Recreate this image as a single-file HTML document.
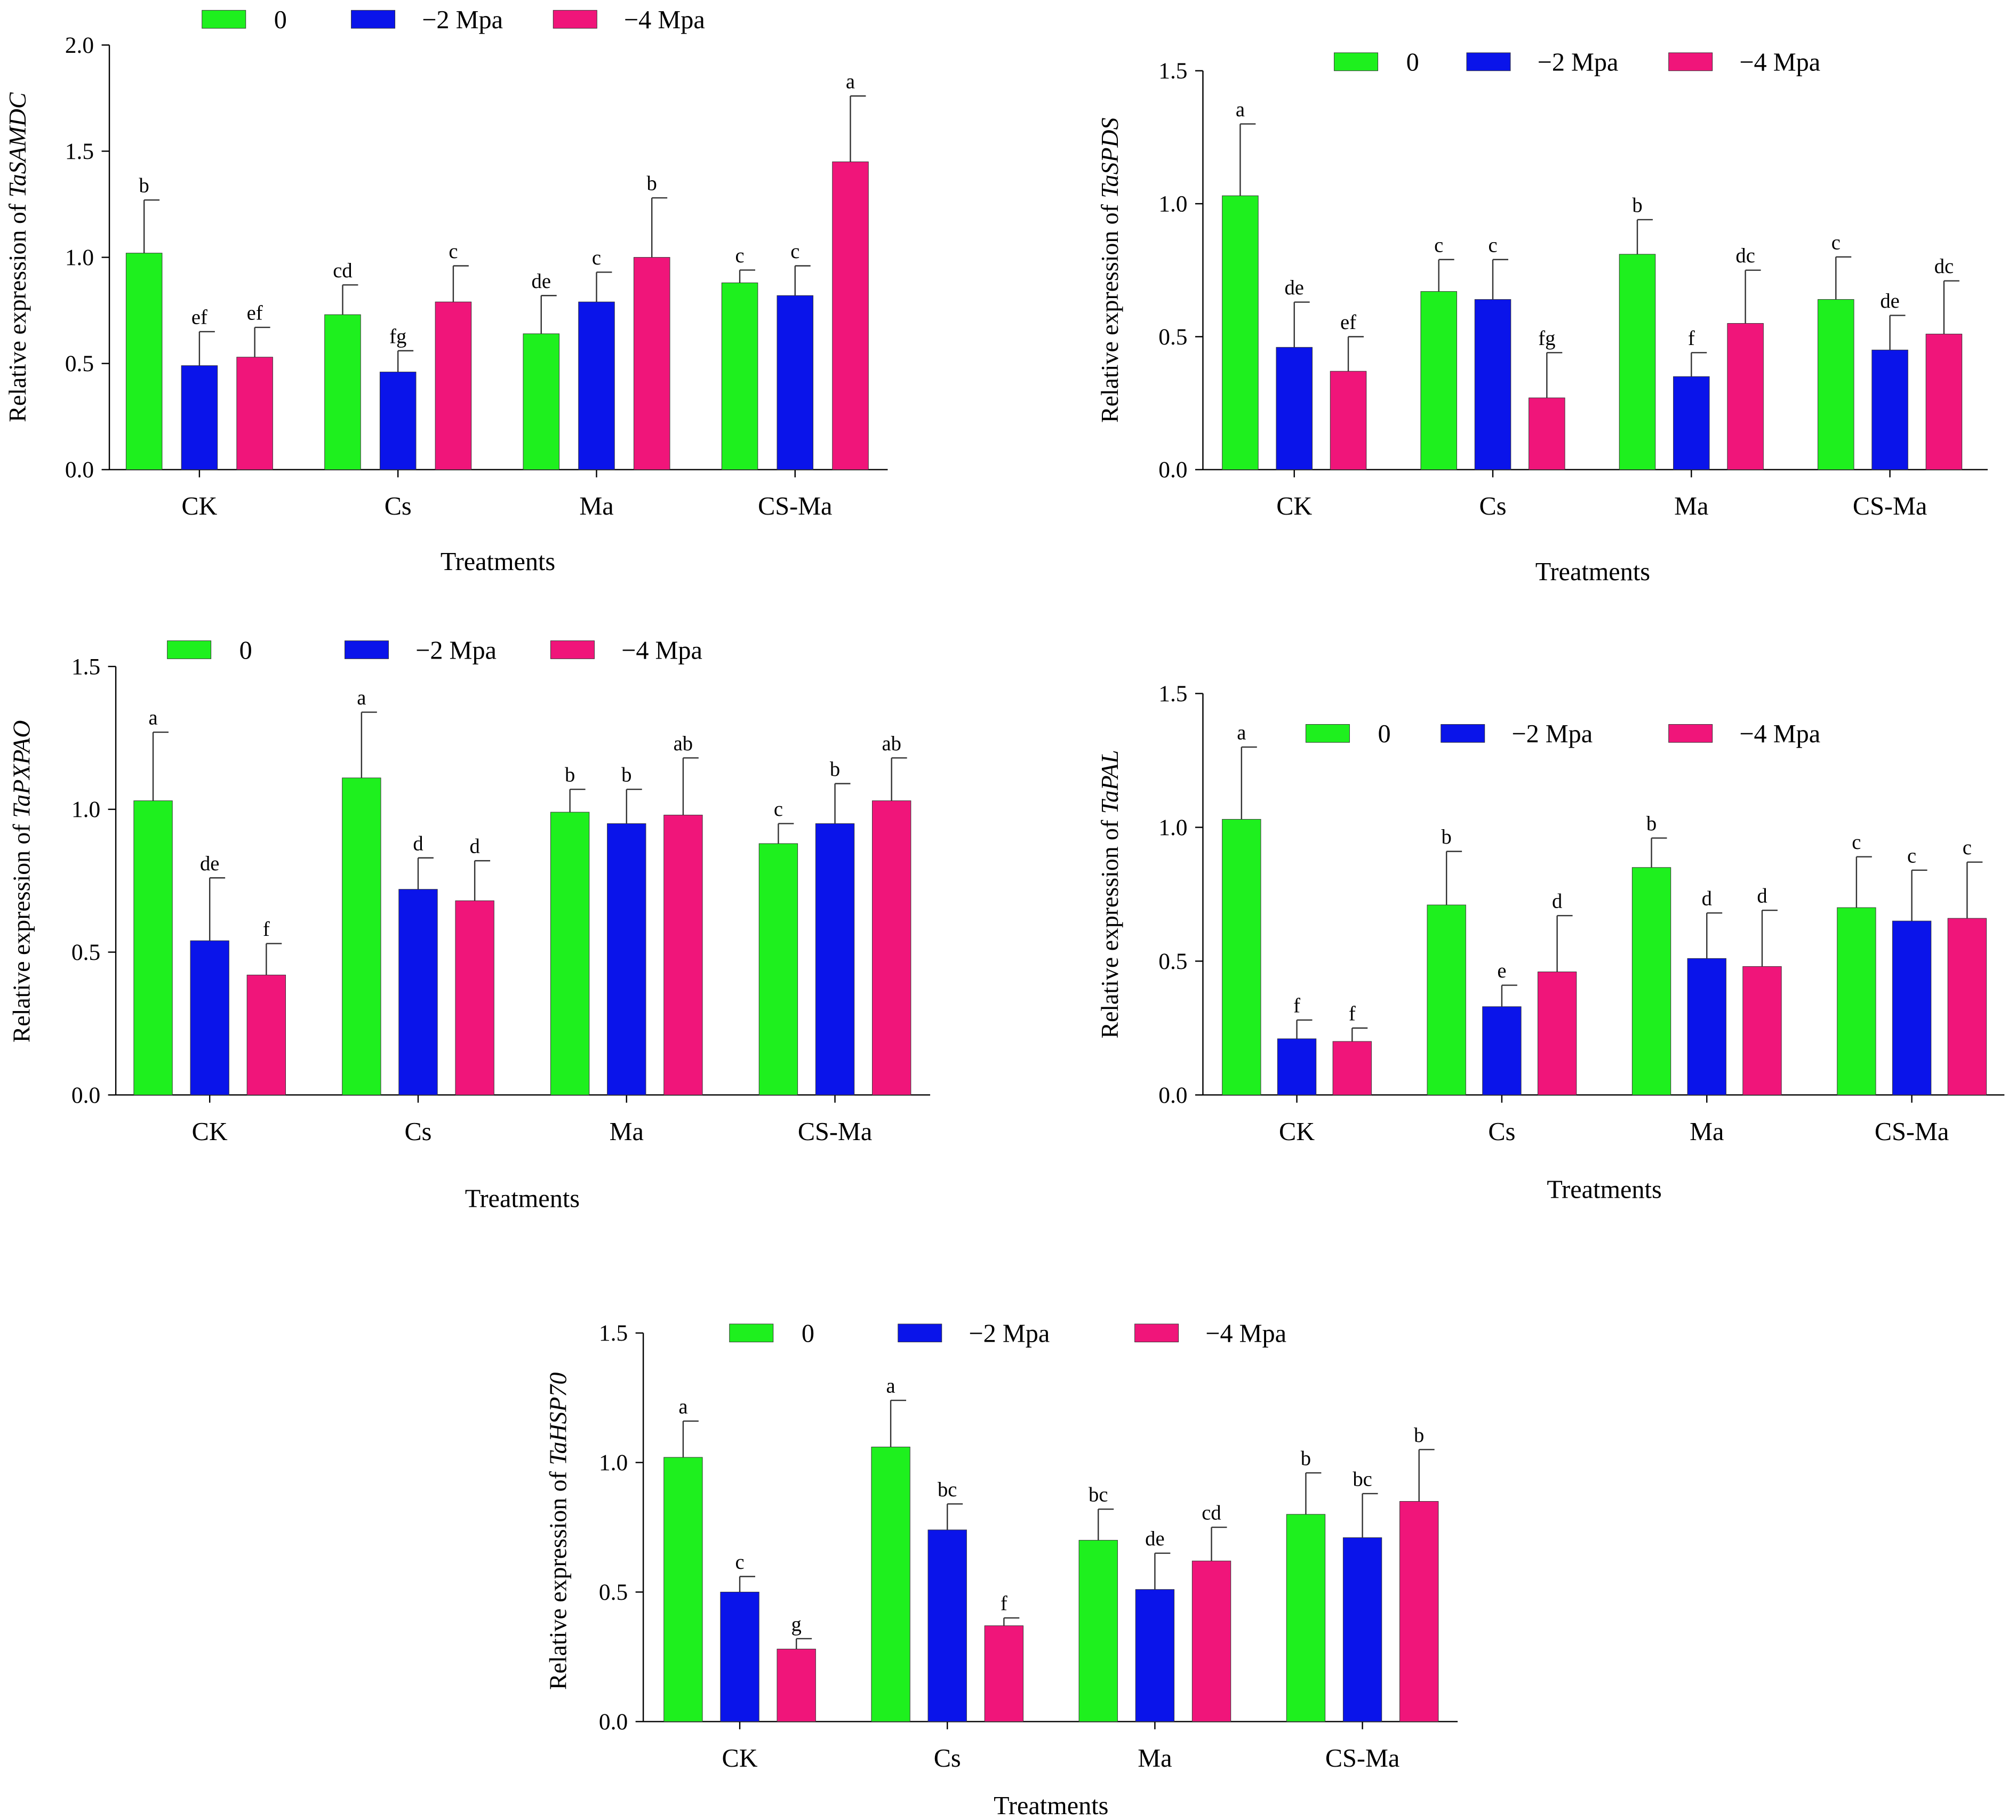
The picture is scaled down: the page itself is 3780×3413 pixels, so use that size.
<!DOCTYPE html>
<html><head><meta charset="utf-8"><style>
html,body{margin:0;padding:0;background:#fff}
svg{display:block}
text{font-family:"Liberation Serif",serif;fill:#000}
</style></head><body>
<svg id="fig" width="3780" height="3413" viewBox="0 0 1567 1414.5" preserveAspectRatio="none" xmlns="http://www.w3.org/2000/svg"></svg>
<script>
const categories = ["CK","Cs","Ma","CS-Ma"];
const seriesNames = ["0","\u22122 Mpa","\u22124 Mpa"];
// TaSAMDC
const samdcV0=[1.02,0.73,0.64,0.88], samdcV2=[0.49,0.46,0.79,0.82], samdcV4=[0.53,0.79,1.00,1.45];
const samdcE0=[0.25,0.14,0.18,0.06], samdcE2=[0.16,0.10,0.14,0.14], samdcE4=[0.14,0.17,0.28,0.31];
const samdcL=[["b","cd","de","c"],["ef","fg","c","c"],["ef","c","b","a"]];
const samdcTicks=["0.0","0.5","1.0","1.5","2.0"];
// TaSPDS
const spdsV0=[1.03,0.67,0.81,0.64], spdsV2=[0.46,0.64,0.35,0.45], spdsV4=[0.37,0.27,0.55,0.51];
const spdsE0=[0.27,0.12,0.13,0.16], spdsE2=[0.17,0.15,0.09,0.13], spdsE4=[0.13,0.17,0.20,0.20];
const spdsL=[["a","c","b","c"],["de","c","f","de"],["ef","fg","dc","dc"]];
// TaPXPAO
const pxV0=[1.03,1.11,0.99,0.88], pxV2=[0.54,0.72,0.95,0.95], pxV4=[0.42,0.68,0.98,1.03];
const pxE0=[0.24,0.23,0.08,0.07], pxE2=[0.22,0.11,0.12,0.14], pxE4=[0.11,0.14,0.20,0.15];
const pxL=[["a","a","b","c"],["de","d","b","b"],["f","d","ab","ab"]];
// TaPAL
const palV0=[1.03,0.71,0.85,0.70], palV2=[0.21,0.33,0.51,0.65], palV4=[0.20,0.46,0.48,0.66];
const palE0=[0.27,0.20,0.11,0.19], palE2=[0.07,0.08,0.17,0.19], palE4=[0.05,0.21,0.21,0.21];
const palL=[["a","b","b","c"],["f","e","d","c"],["f","d","d","c"]];
// TaHSP70
const hspV0=[1.02,1.06,0.70,0.80], hspV2=[0.50,0.74,0.51,0.71], hspV4=[0.28,0.37,0.62,0.85];
const hspE0=[0.14,0.18,0.12,0.16], hspE2=[0.06,0.10,0.14,0.17], hspE4=[0.04,0.03,0.13,0.20];
const hspL=[["a","a","bc","b"],["c","bc","de","bc"],["g","f","cd","b"]];
const ticks15=["0.0","0.5","1.0","1.5"];

const colors=["#1ef01e","#0a14ea","#f0157a"];
const svg=document.getElementById('fig');
const NS="http://www.w3.org/2000/svg";
function el(tag,attrs,parent){const e=document.createElementNS(NS,tag);for(const k in attrs)e.setAttribute(k,attrs[k]);(parent||svg).appendChild(e);return e;}

function chart(o){
  const g=el('g',{});
  
  
  const ymax=parseFloat(o.ticks[o.ticks.length-1]);
  const y=v=>o.y0-(o.y0-o.ytop)*v/ymax;
  const x=i=>o.gx[0]+i*(o.gx[3]-o.gx[0])/3;
  const ya=el('line',{x1:o.ax,x2:o.ax,y1:o.ytop,y2:o.y0,stroke:'#000','stroke-width':1},g);
  
  const xa=el('line',{x1:o.ax,x2:o.axr,y1:o.y0,y2:o.y0,stroke:'#000','stroke-width':1},g);
  
  o.ticks.forEach(t=>{const v=parseFloat(t);
    el('line',{x1:o.ax-6,x2:o.ax,y1:y(v),y2:y(v),stroke:'#000'},g);
    const tx=el('text',{x:o.ax-12,y:y(v)+6,'text-anchor':'end','font-size':18},g);tx.textContent=t;
    
  });
  categories.forEach((c,i)=>{
    el('line',{x1:x(i),x2:x(i),y1:o.y0,y2:o.y0+6,stroke:'#000'},g);
    const tx=el('text',{x:x(i),y:o.y0+35,'text-anchor':'middle','font-size':20},g);tx.textContent=c;
    
  });
  const off=[-o.off,0,o.off];
  o.vals.forEach((arr,s)=>{arr.forEach((v,i)=>{
    const cx=x(i)+off[s];
    const r=el('rect',{x:cx-o.bw/2,y:y(v),width:o.bw,height:o.y0-y(v),fill:colors[s],stroke:'#333','stroke-width':0.4},g);
    
    
    const top=y(v+o.errs[s][i]);
    el('line',{x1:cx,x2:cx,y1:y(v),y2:top,stroke:'#333','stroke-width':1},g);
    el('line',{x1:cx,x2:cx+12,y1:top,y2:top,stroke:'#333','stroke-width':1},g);
    const lt=el('text',{x:cx,y:top-6,'text-anchor':'middle','font-size':16},g);lt.textContent=o.letters[s][i];
    
  });});
  o.leg.forEach((lx,s)=>{
    const r=el('rect',{x:lx,y:o.ly-7,width:34,height:14,fill:colors[s],stroke:'#333','stroke-width':0.4},g);
    
    const t=el('text',{x:lx+(s==0?56:55),y:o.ly+7,'font-size':20},g);t.textContent=seriesNames[s];
    
  });
  const tt=el('text',{x:o.tx,y:o.ty,'text-anchor':'middle','font-size':20},g);tt.textContent="Treatments";
  
  const yt=el('text',{transform:`translate(${o.ytx},${o.yty}) rotate(-90)`,'text-anchor':'middle','font-size':19},g);
  
  yt.appendChild(document.createTextNode("Relative expression of "));
  const it=el('tspan',{'font-style':'italic'},yt);it.textContent=o.gene;
}

chart({name:'chart-tasamdc',gene:'TaSAMDC',ticks:samdcTicks,ax:85,axr:690,y0:365,ytop:35,gx:[155,310,464,618],off:43,bw:28,
  vals:[samdcV0,samdcV2,samdcV4],errs:[samdcE0,samdcE2,samdcE4],letters:samdcL,leg:[157,273,430],ly:15,tx:387,ty:443,ytx:20,yty:200});
chart({name:'chart-taspds',gene:'TaSPDS',ticks:ticks15,ax:935,axr:1545,y0:365,ytop:55,gx:[1006,1160,1314,1469],off:42,bw:28,
  vals:[spdsV0,spdsV2,spdsV4],errs:[spdsE0,spdsE2,spdsE4],letters:spdsL,leg:[1037,1140,1297],ly:48,tx:1238,ty:451,ytx:869,yty:210});
chart({name:'chart-tapxpao',gene:'TaPXPAO',ticks:ticks15,ax:90,axr:723,y0:851,ytop:518,gx:[163,325,487,649],off:44,bw:30,
  vals:[pxV0,pxV2,pxV4],errs:[pxE0,pxE2,pxE4],letters:pxL,leg:[130,268,428],ly:505,tx:406,ty:938,ytx:23,yty:685});
chart({name:'chart-tapal',gene:'TaPAL',ticks:ticks15,ax:935,axr:1558,y0:851,ytop:539,gx:[1008,1167,1327,1486],off:43,bw:30,
  vals:[palV0,palV2,palV4],errs:[palE0,palE2,palE4],letters:palL,leg:[1015,1120,1297],ly:570,tx:1247,ty:931,ytx:869,yty:695});
chart({name:'chart-tahsp70',gene:'TaHSP70',ticks:ticks15,ax:500,axr:1133,y0:1338,ytop:1036,gx:[575,736,898,1059],off:44,bw:30,
  vals:[hspV0,hspV2,hspV4],errs:[hspE0,hspE2,hspE4],letters:hspL,leg:[567,698,882],ly:1036,tx:817,ty:1410,ytx:440,yty:1190});
</script>
</body></html>
